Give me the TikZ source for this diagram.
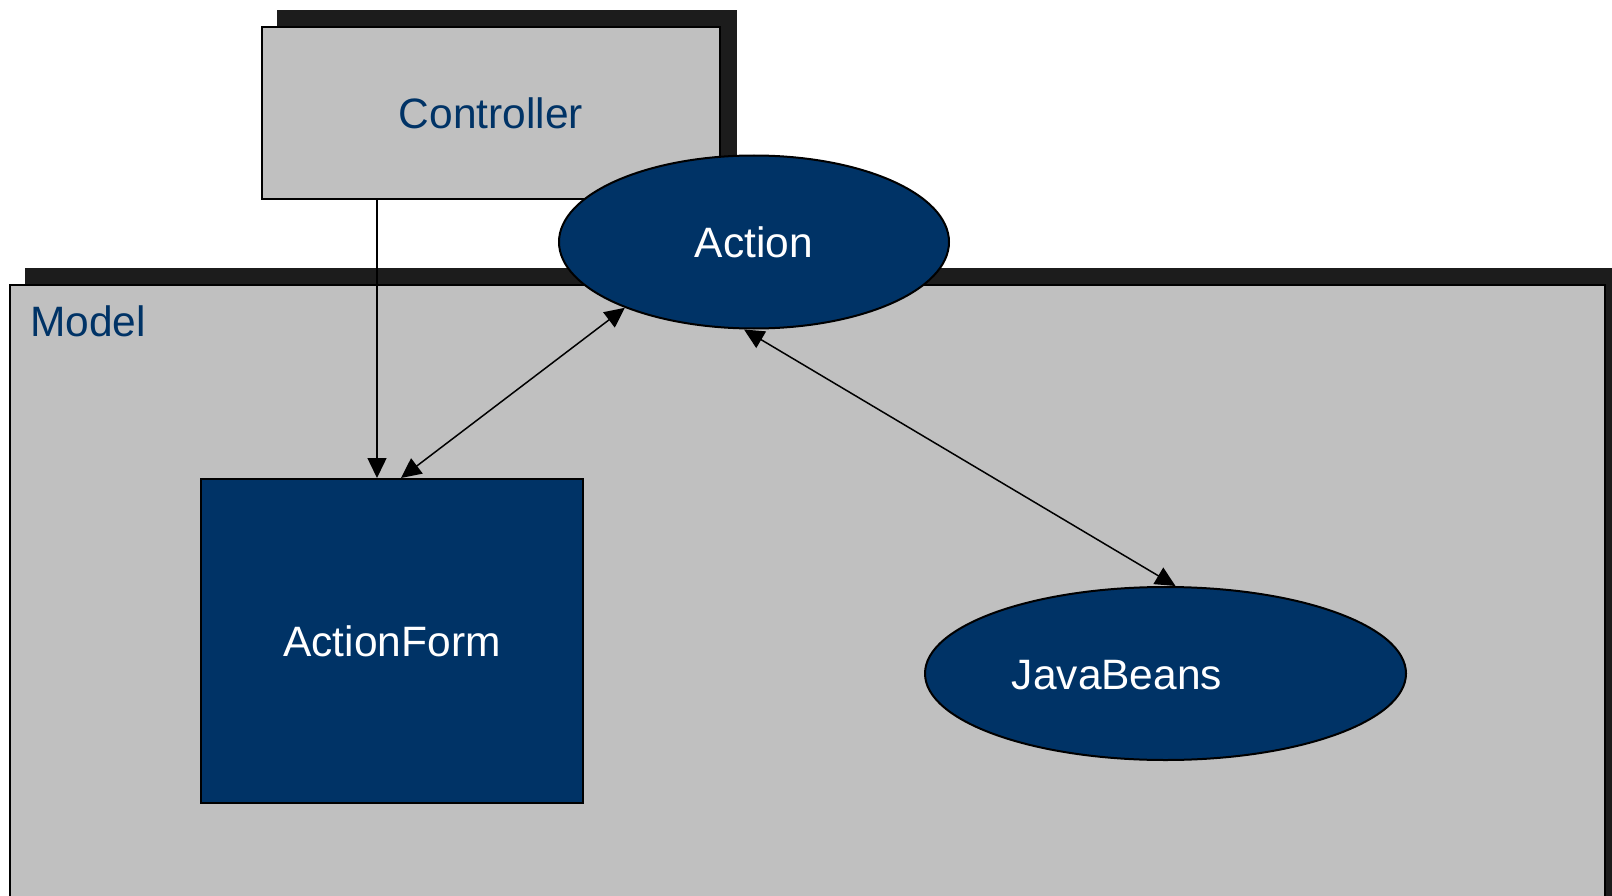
\documentclass[tikz,border=0pt]{standalone}
\usepackage{fontspec}
\setmainfont{Liberation Sans}
\usetikzlibrary{arrows.meta,shapes.geometric}
\definecolor{boxgray}{HTML}{C0C0C0}
\definecolor{navy}{HTML}{003366}
\definecolor{shade}{HTML}{1C1C1C}
\tikzset{
  bigfont/.style={font=\fontsize{42.5}{50}\selectfont},
  graybox/.style={draw=black, line width=2pt, fill=boxgray, inner sep=0pt, text=navy, bigfont},
  navyshape/.style={draw=black, line width=2pt, fill=navy, inner sep=0pt, text=white, bigfont},
  shadowfill/.style={fill=shade},
  arr/.style={line width=1.5pt, -{Triangle[length=20pt,width=19pt]}},
  dblarr/.style={line width=1.5pt, {Triangle[length=20pt,width=19pt]}-{Triangle[length=20pt,width=19pt]}}
}
\begin{document}
\begin{tikzpicture}[x=1pt,y=-1pt]
\useasboundingbox (0,0) rectangle (1612,896);
\clip (0,0) rectangle (1612,896);
% Model
\fill[shadowfill] (25,268) rectangle (1620,930);
\node[graybox, minimum width=1595pt, minimum height=640pt] (model) at (807.5,605) {};
\node[anchor=base west, text=navy, bigfont, inner sep=0pt] (modellabel) at (30,336) {Model};
% Controller
\fill[shadowfill] (277,10) rectangle (737,199);
\node[graybox, minimum width=458pt, minimum height=172pt] (ctrl) at (491,113) {Controller};
% ActionForm
\node[navyshape, minimum width=382pt, minimum height=324pt] (af) at (392,641) {\raisebox{-2pt}{ActionForm}};
% JavaBeans
\node[navyshape, ellipse, minimum width=481pt, minimum height=173pt] (jb) at (1165.5,673.5) {};
\node[text=white, bigfont, inner sep=0pt] (jbtext) at (1117,675) {JavaBeans};
% Action
\node[navyshape, ellipse, minimum width=390pt, minimum height=173pt] (act) at (754,242) {Action};
% connectors
\draw[arr] ([xshift=-15pt]af.north |- ctrl.south) -- ([xshift=-15pt]af.north);
\draw[dblarr] ([xshift=9pt]af.north) -- (act.207);
\draw[dblarr] ([xshift=-10pt]act.south) -- ([xshift=10pt]jb.north);
\end{tikzpicture}
\end{document}
